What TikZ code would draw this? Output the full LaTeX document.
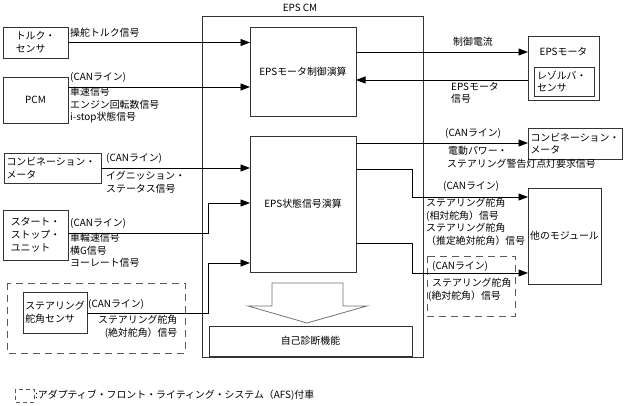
\documentclass[tikz,border=0pt]{standalone}
\usepackage{fontspec}
\setmainfont{Noto Sans CJK JP}
\usetikzlibrary{arrows.meta,calc}
\begin{document}
\begin{tikzpicture}[x=1pt,y=-1pt,
  every node/.style={font=\fontsize{9.9}{12.7}\selectfont},
  box/.style={draw=black!80,line width=0.9pt,inner sep=0pt,outer sep=0pt,rectangle},
  lbl/.style={inner sep=0pt,anchor=west},
  lblnw/.style={inner sep=0pt,anchor=north west,align=left},
  conn/.style={draw=black,line width=0.9pt},
  arr/.style={conn,-{Triangle[length=9.5pt,width=7pt]}},
  dbox/.style={draw=black!65,line width=0.9pt,dash pattern=on 7pt off 5pt}]
\useasboundingbox (0,0) rectangle (625,406);
% main box
\node[box,minimum width=221pt,minimum height=341pt] (cm) at (312.5,186.5) {};
\node[inner sep=0pt] (cmlbl) at (300,8) {EPS CM};
\node[box,minimum width=106pt,minimum height=89pt] (ctrl) at (303,71.5) {EPSモータ制御演算};
\node[box,minimum width=106pt,minimum height=136pt] (state) at (303,204) {EPS状態信号演算};
\node[box,minimum width=203pt,minimum height=30pt] (diag) at (310.5,341) {自己診断機能};
% hollow arrow
\draw[draw=black!55,line width=0.8pt,fill=white] (272,283) -- (343,283) -- (343,306) -- (367,306) -- (307,323) -- (248,306) -- (272,306) -- cycle;
% left nodes
\node[box,minimum width=65pt,minimum height=31pt,align=left] (torque) at (35.5,42.5) {トルク・\\センサ};
\node[box,minimum width=65pt,minimum height=46pt] (pcm) at (35.5,100) {PCM};
\node[box,minimum width=97pt,minimum height=30pt,align=left,text width=92pt] (combL) at (52.5,168) {コンビネーション・\\メータ};
\node[box,minimum width=65pt,minimum height=50pt,align=left] (ssu) at (35.5,235) {スタート・\\ストップ・\\ユニット};
\node[box,minimum width=64pt,minimum height=41pt,align=left] (sas) at (55,312.5) {ステアリング\\舵角センサ};
\draw[dbox] (7,283) rectangle (185,353);
% right nodes
\node[box,minimum width=71pt,minimum height=64pt] (motor) at (563.5,68) {};
\node[inner sep=0pt] (motorlbl) at (563.5,52) {EPSモータ};
\node[box,minimum width=60pt,minimum height=29pt,align=left,text width=54pt] (resolver) at (564,81.5) {レゾルバ・\\センサ};
\node[box,minimum width=94pt,minimum height=31pt,align=left,text width=89pt] (combR) at (575,143.5) {コンビネーション・\\メータ};
\node[box,minimum width=73pt,minimum height=96pt] (other) at (564.5,236) {他のモジュール};
\draw[dbox] (427,256) rectangle (515,316);
% connectors left
\draw[arr] (torque.east) -- (torque.east -| ctrl.west);
\coordinate (p1) at ($(pcm.north east)+(0,10)$);
\draw[arr] (p1) -- (p1 -| ctrl.west);
\draw[arr] (combL.east) -- (combL.east -| state.west);
\coordinate (s1) at ($(ssu.east)+(0,-2)$);
\coordinate (s2) at (208,233);
\coordinate (s3) at (208,203);
\draw[arr] (s1) -- (s2) -- (s3) -- (s3 -| state.west);
\coordinate (a1) at (sas.east |- 0,313);
\coordinate (a2) at (208,313);
\coordinate (a3) at (208,263);
\draw[arr] (a1) -- (a2) -- (a3) -- (a3 -| state.west);
% connectors right
\coordinate (m1) at (356,52);
\draw[arr] (m1) -- (m1 -| motor.west);
\coordinate (m2) at (528,80);
\draw[arr] (m2) -- (m2 -| ctrl.east);
\coordinate (c1) at (356,143);
\draw[arr] (c1) -- (c1 -| combR.west);
\coordinate (o1) at (356,169);
\coordinate (o2) at (412,169);
\coordinate (o3) at (412,197);
\draw[arr] (o1) -- (o2) -- (o3) -- (o3 -| other.west);
\coordinate (q1) at (356,243);
\coordinate (q2) at (412,243);
\coordinate (q3) at (412,273);
\draw[arr] (q1) -- (q2) -- (q3) -- (q3 -| other.west);
% labels
\node[lbl] (l1) at (70,33) {操舵トルク信号};
\node[lbl] (l2) at (70,77.5) {(CANライン)};
\node[lblnw] (l3) at (70,87) {車速信号\\エンジン回転数信号\\i-stop状態信号};
\node[lbl] (l4) at (106,158) {(CANライン)};
\node[lblnw] (l5) at (106,171) {イグニッション・\\ステータス信号};
\node[lbl] (l6) at (70,223) {(CANライン)};
\node[lblnw] (l7) at (70,233) {車輪速信号\\横G信号\\ヨーレート信号};
\node[lbl] (l8) at (88,304) {(CANライン)};
\node[lblnw,align=right] (l9) at (98,315) {ステアリング舵角\\(絶対舵角）信号};
\node[inner sep=0pt] (l10) at (473,42) {制御電流};
\node[lblnw] (l11) at (451,82) {EPSモータ\\信号};
\node[lbl] (l12) at (445,133) {(CANライン)};
\node[lblnw] (l13) at (447,146) {\hspace*{1pt}電動パワー・\\ステアリング警告灯点灯要求信号};
\node[lbl] (l14) at (443,186) {(CANライン)};
\node[lblnw] (l15) at (426,198) {ステアリング舵角\\(相対舵角）信号\\ステアリング舵角\\（推定絶対舵角）信号};
\node[lbl] (l16) at (432,266) {(CANライン)};
\node[lblnw] (l17) at (428,278) {\hspace*{4pt}ステアリング舵角\\(絶対舵角）信号};
% legend
\draw[dbox,dash pattern=on 4pt off 3pt] (15,389) rectangle (34,402);
\node[lbl] (leg) at (35,395) {:アダプティブ・フロント・ライティング・システム（AFS)付車};
\end{tikzpicture}
\end{document}
